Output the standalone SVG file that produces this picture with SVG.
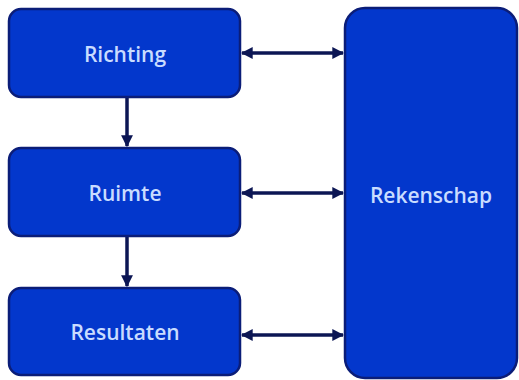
<svg xmlns="http://www.w3.org/2000/svg" width="519" height="380" viewBox="0 0 519 380">
<defs>
<style>
.box{fill:#0337cc;stroke:#0b1d78;stroke-width:2.5}
.lbl{font-family:"Open Sans","Liberation Sans",sans-serif;font-size:21px;font-weight:600;fill:#c9dcff;text-anchor:middle;dominant-baseline:central}
.con{stroke:#0c1654;stroke-width:3.5;fill:none}
</style>
<marker id="ah" viewBox="0 0 10 10" refX="9" refY="5" markerWidth="3.4" markerHeight="3.4" orient="auto-start-reverse" markerUnits="strokeWidth">
<path d="M0,0 L10,5 L0,10 z" fill="#0c1654"/>
</marker>
</defs>
<rect width="519" height="380" fill="#ffffff"/>
<g id="connectors">
<line class="con" x1="127" y1="97" x2="127" y2="146" marker-end="url(#ah)"/>
<line class="con" x1="127" y1="236" x2="127" y2="286" marker-end="url(#ah)"/>
<line class="con" x1="242" y1="53" x2="343" y2="53" marker-start="url(#ah)" marker-end="url(#ah)"/>
<line class="con" x1="242" y1="193" x2="343" y2="193" marker-start="url(#ah)" marker-end="url(#ah)"/>
<line class="con" x1="242" y1="335" x2="343" y2="335" marker-start="url(#ah)" marker-end="url(#ah)"/>
</g>
<g id="richting">
<rect class="box" x="9" y="9" width="231" height="88" rx="12"/>
<text class="lbl" x="125" y="54">Richting</text>
</g>
<g id="ruimte">
<rect class="box" x="9" y="148" width="231" height="88" rx="12"/>
<text class="lbl" x="125" y="193">Ruimte</text>
</g>
<g id="resultaten">
<rect class="box" x="9" y="288" width="231" height="87" rx="12"/>
<text class="lbl" x="125" y="332">Resultaten</text>
</g>
<g id="rekenschap">
<rect class="box" x="345" y="8" width="172" height="370" rx="20"/>
<text class="lbl" x="431" y="195">Rekenschap</text>
</g>
</svg>
